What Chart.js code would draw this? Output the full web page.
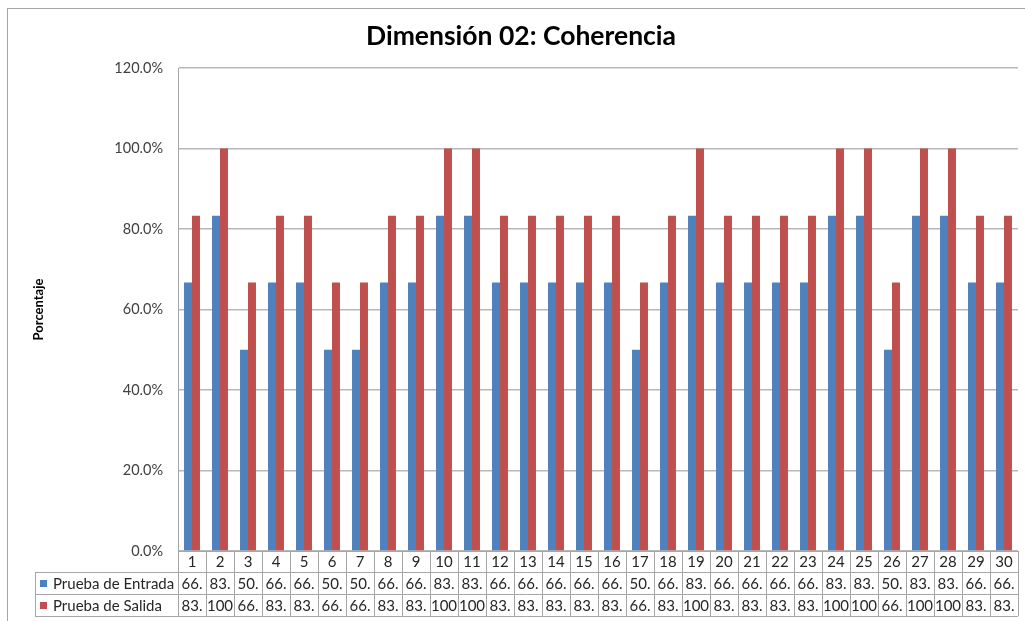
<!DOCTYPE html>
<html lang="es">
<head>
<meta charset="UTF-8">
<title>Dimensión 02: Coherencia</title>
<script src="https://cdn.jsdelivr.net/npm/chart.js"></script>
<style>
  body { margin: 0; background: #fff; }
  canvas { display: block; }
</style>
</head>
<body>
<canvas id="grafico" width="1025" height="621"></canvas>
<script>
// datos
const categorias = ['1','2','3','4','5','6','7','8','9','10','11','12','13','14','15',
                    '16','17','18','19','20','21','22','23','24','25','26','27','28','29','30'];
const entrada = [66.7, 83.3, 50.0, 66.7, 66.7, 50.0, 50.0, 66.7, 66.7, 83.3,
                 83.3, 66.7, 66.7, 66.7, 66.7, 66.7, 50.0, 66.7, 83.3, 66.7,
                 66.7, 66.7, 66.7, 83.3, 83.3, 50.0, 83.3, 83.3, 66.7, 66.7];
const salida = [83.3, 100.0, 66.7, 83.3, 83.3, 66.7, 66.7, 83.3, 83.3, 100.0,
                100.0, 83.3, 83.3, 83.3, 83.3, 83.3, 66.7, 83.3, 100.0, 83.3,
                83.3, 83.3, 83.3, 100.0, 100.0, 66.7, 100.0, 100.0, 83.3, 83.3];
const ticksY = [0, 20, 40, 60, 80, 100, 120];
const titulo = 'Dimensión 02: Coherencia';

const AZUL = '#4F81BD';
const ROJO = '#C0504D';
const GRIS = '#a6a6a6';
const FUENTE = 'Lato, "Open Sans", sans-serif';

// fondo, marco exterior, título y tabla de datos bajo el eje
const tablaDatos = {
  id: 'tablaDatos',
  beforeDraw(chart) {
    const ctx = chart.ctx;
    ctx.save();
    ctx.fillStyle = '#fff';
    ctx.fillRect(0, 0, chart.width, chart.height);
    ctx.strokeStyle = GRIS;
    ctx.lineWidth = 1;
    ctx.strokeRect(7.5, 8.5, chart.width + 20, chart.height + 20);
    ctx.fillStyle = '#000';
    ctx.font = 'bold 26.5px ' + FUENTE;
    ctx.textAlign = 'center';
    ctx.textBaseline = 'middle';
    ctx.fillText(titulo, 521, 36);
    ctx.restore();
  },
  afterDraw(chart) {
    const ctx = chart.ctx;
    const x = chart.scales.x;
    const area = chart.chartArea;
    const w = x.width / categorias.length;
    const y0 = area.bottom, y1 = y0 + 21, y2 = y1 + 22, y3 = y2 + 22;
    const izq = 35;

    ctx.save();
    ctx.strokeStyle = GRIS;
    ctx.lineWidth = 1;
    ctx.beginPath();
    [y1, y2, y3].forEach(y => { ctx.moveTo(izq, Math.round(y) + 0.5); ctx.lineTo(area.right, Math.round(y) + 0.5); });
    ctx.moveTo(izq + 0.5, y1); ctx.lineTo(izq + 0.5, y3);
    for (let i = 0; i <= categorias.length; i++) {
      const px = Math.round(area.left + i * w) + 0.5;
      ctx.moveTo(px, y0); ctx.lineTo(px, y3);
    }
    ctx.stroke();

    ctx.textBaseline = 'middle';
    ctx.textAlign = 'center';
    ctx.fillStyle = '#262626';
    ctx.font = '15px ' + FUENTE;
    categorias.forEach((c, i) => {
      const px = x.getPixelForValue(i);
      ctx.fillText(c, px, (y0 + y1) / 2 + 1);
      ctx.fillText(entrada[i].toFixed(1).slice(0, 3), px, (y1 + y2) / 2 + 1);
      ctx.fillText(salida[i].toFixed(1).slice(0, 3), px, (y2 + y3) / 2 + 1);
    });

    // leyenda dentro de la tabla
    ctx.textAlign = 'left';
    chart.data.datasets.forEach((ds, k) => {
      const yc = k === 0 ? (y1 + y2) / 2 : (y2 + y3) / 2;
      ctx.fillStyle = ds.backgroundColor;
      ctx.fillRect(40, yc - 3, 7, 7);
      ctx.fillStyle = '#262626';
      ctx.fillText(ds.label, 53, yc + 1);
    });
    ctx.restore();
  }
};

new Chart(document.getElementById('grafico'), {
  type: 'bar',
  data: {
    labels: categorias,
    datasets: [
      { label: 'Prueba de Entrada', data: entrada, backgroundColor: AZUL },
      { label: 'Prueba de Salida', data: salida, backgroundColor: ROJO }
    ]
  },
  options: {
    responsive: false,
    animation: false,
    layout: { padding: { top: 68, right: 7, left: 0, bottom: 0 } },
    datasets: { bar: { categoryPercentage: 0.57, barPercentage: 1 } },
    plugins: {
      legend: { display: false },
      title: { display: false },
      tooltip: { enabled: false }
    },
    scales: {
      x: {
        grid: { display: false },
        border: { display: true, color: GRIS },
        ticks: { display: false },
        afterFit(s) { s.height = 70; }
      },
      y: {
        min: ticksY[0],
        max: ticksY[ticksY.length - 1],
        afterBuildTicks(s) { s.ticks = ticksY.map(v => ({ value: v })); },
        grid: { color: '#b8b8b8', lineWidth: 1.5, drawTicks: false },
        border: { display: true, color: GRIS },
        ticks: {
          padding: 15,
          color: '#404040',
          font: { family: FUENTE, size: 14.5 },
          callback: v => v.toFixed(1) + '%'
        },
        title: {
          display: true,
          text: 'Porcentaje',
          color: '#000',
          font: { family: FUENTE, size: 13, weight: 'bold' },
          padding: { top: 31, bottom: 0 }
        },
        afterFit(s) { s.width = 178; }
      }
    }
  },
  plugins: [tablaDatos]
});
</script>
</body>
</html>
